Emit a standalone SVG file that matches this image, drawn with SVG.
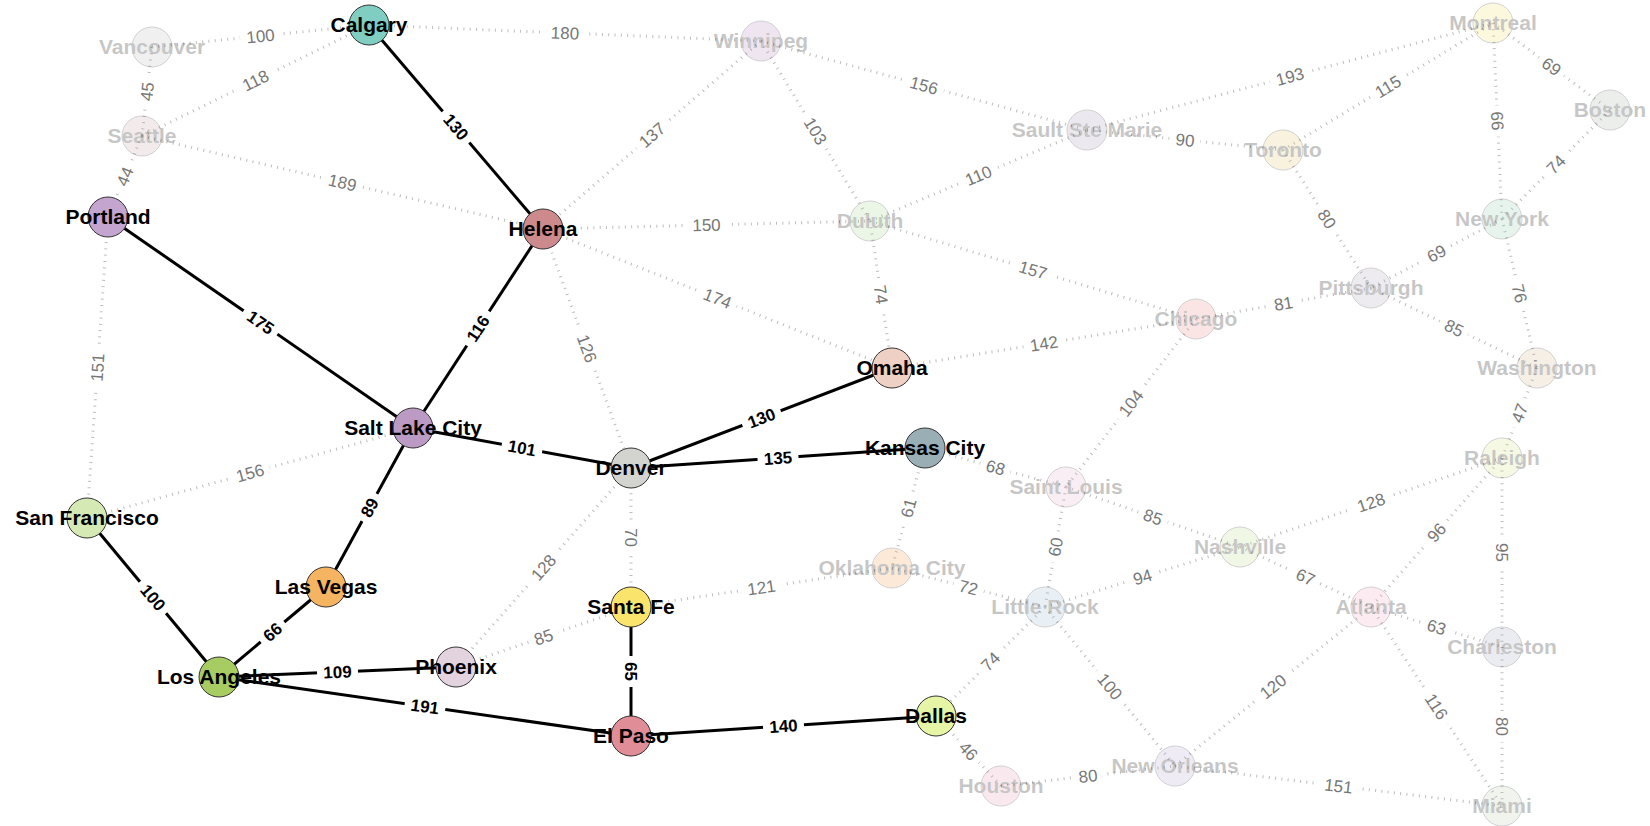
<svg xmlns="http://www.w3.org/2000/svg" width="1650" height="826" viewBox="0 0 1650 826">
  <style>
    .link { fill: none; stroke: #000; stroke-width: 3; }
    .link.faded { stroke: #bdbdbd; stroke-dasharray: 1 5.3; }
    .elabel text { font-family: "Liberation Sans", Arial, sans-serif; font-size: 17px; font-weight: bold; text-anchor: middle; fill: #000; }
    .elabel.faded text { font-weight: normal; fill: #777; }
    .node circle { stroke: #333; stroke-width: 1; }
    .node text { font-family: "Liberation Sans", Arial, sans-serif; font-size: 21px; font-weight: bold; text-anchor: middle; fill: #000; }
    .node.faded { opacity: 0.22; }
  </style>
  <defs>
    <!-- white backing that opens a gap in the line behind each distance -->
    <rect id="bg3" x="-20.5" y="-7" width="41" height="14" fill="#fff"/>
    <rect id="bg2" x="-15.5" y="-7" width="31" height="14" fill="#fff"/>
  </defs>

  <rect width="1650" height="826" fill="#fff"/>

  <g id="connectors">
    <g id="links">
      <!-- dotted routes -->
      <line class="link faded" x1="152" y1="47" x2="369" y2="25"/>
      <line class="link faded" x1="152" y1="47" x2="142" y2="136"/>
      <line class="link faded" x1="142" y1="136" x2="369" y2="25"/>
      <line class="link faded" x1="142" y1="136" x2="108" y2="217"/>
      <line class="link faded" x1="142" y1="136" x2="543" y2="229"/>
      <line class="link faded" x1="369" y1="25" x2="761" y2="41"/>
      <line class="link faded" x1="761" y1="41" x2="543" y2="229"/>
      <line class="link faded" x1="761" y1="41" x2="870" y2="221"/>
      <line class="link faded" x1="761" y1="41" x2="1087" y2="130"/>
      <line class="link faded" x1="543" y1="229" x2="870" y2="221"/>
      <line class="link faded" x1="543" y1="229" x2="892" y2="368"/>
      <line class="link faded" x1="543" y1="229" x2="631" y2="468"/>
      <line class="link faded" x1="870" y1="221" x2="1087" y2="130"/>
      <line class="link faded" x1="870" y1="221" x2="892" y2="368"/>
      <line class="link faded" x1="870" y1="221" x2="1196" y2="319"/>
      <line class="link faded" x1="1087" y1="130" x2="1493" y2="23"/>
      <line class="link faded" x1="1087" y1="130" x2="1283" y2="150"/>
      <line class="link faded" x1="1283" y1="150" x2="1493" y2="23"/>
      <line class="link faded" x1="1283" y1="150" x2="1371" y2="288"/>
      <line class="link faded" x1="1493" y1="23" x2="1610" y2="110"/>
      <line class="link faded" x1="1493" y1="23" x2="1502" y2="219"/>
      <line class="link faded" x1="1610" y1="110" x2="1502" y2="219"/>
      <line class="link faded" x1="1502" y1="219" x2="1371" y2="288"/>
      <line class="link faded" x1="1502" y1="219" x2="1537" y2="368"/>
      <line class="link faded" x1="1371" y1="288" x2="1196" y2="319"/>
      <line class="link faded" x1="1371" y1="288" x2="1537" y2="368"/>
      <line class="link faded" x1="892" y1="368" x2="1196" y2="319"/>
      <line class="link faded" x1="1196" y1="319" x2="1066" y2="487"/>
      <line class="link faded" x1="1537" y1="368" x2="1502" y2="458"/>
      <line class="link faded" x1="108" y1="217" x2="87" y2="518"/>
      <line class="link faded" x1="87" y1="518" x2="413" y2="428"/>
      <line class="link faded" x1="631" y1="468" x2="456" y2="667"/>
      <line class="link faded" x1="631" y1="468" x2="631" y2="607"/>
      <line class="link faded" x1="925" y1="448" x2="1066" y2="487"/>
      <line class="link faded" x1="925" y1="448" x2="892" y2="568"/>
      <line class="link faded" x1="456" y1="667" x2="631" y2="607"/>
      <line class="link faded" x1="631" y1="607" x2="892" y2="568"/>
      <line class="link faded" x1="892" y1="568" x2="1045" y2="607"/>
      <line class="link faded" x1="1066" y1="487" x2="1045" y2="607"/>
      <line class="link faded" x1="1066" y1="487" x2="1240" y2="547"/>
      <line class="link faded" x1="1045" y1="607" x2="1240" y2="547"/>
      <line class="link faded" x1="1502" y1="458" x2="1240" y2="547"/>
      <line class="link faded" x1="1240" y1="547" x2="1371" y2="607"/>
      <line class="link faded" x1="1502" y1="458" x2="1371" y2="607"/>
      <line class="link faded" x1="1502" y1="458" x2="1502" y2="647"/>
      <line class="link faded" x1="1371" y1="607" x2="1502" y2="647"/>
      <line class="link faded" x1="1045" y1="607" x2="936" y2="716"/>
      <line class="link faded" x1="1045" y1="607" x2="1175" y2="766"/>
      <line class="link faded" x1="936" y1="716" x2="1001" y2="786"/>
      <line class="link faded" x1="1001" y1="786" x2="1175" y2="766"/>
      <line class="link faded" x1="1175" y1="766" x2="1371" y2="607"/>
      <line class="link faded" x1="1371" y1="607" x2="1502" y2="806"/>
      <line class="link faded" x1="1502" y1="647" x2="1502" y2="806"/>
      <line class="link faded" x1="1175" y1="766" x2="1502" y2="806"/>
      <!-- solid routes -->
      <line class="link" x1="369" y1="25" x2="543" y2="229"/>
      <line class="link" x1="108" y1="217" x2="413" y2="428"/>
      <line class="link" x1="543" y1="229" x2="413" y2="428"/>
      <line class="link" x1="413" y1="428" x2="631" y2="468"/>
      <line class="link" x1="413" y1="428" x2="326" y2="587"/>
      <line class="link" x1="87" y1="518" x2="219" y2="677"/>
      <line class="link" x1="326" y1="587" x2="219" y2="677"/>
      <line class="link" x1="219" y1="677" x2="456" y2="667"/>
      <line class="link" x1="219" y1="677" x2="631" y2="736"/>
      <line class="link" x1="631" y1="468" x2="892" y2="368"/>
      <line class="link" x1="631" y1="468" x2="925" y2="448"/>
      <line class="link" x1="631" y1="607" x2="631" y2="736"/>
      <line class="link" x1="631" y1="736" x2="936" y2="716"/>
    </g>

    <g id="link-labels">
      <g class="elabel faded" transform="translate(260.5 36) rotate(-5.79)"><use href="#bg3"/><text y="6">100</text></g>
      <g class="elabel faded" transform="translate(147 91.5) rotate(-83.6)"><use href="#bg2"/><text y="6">45</text></g>
      <g class="elabel faded" transform="translate(255.5 80.5) rotate(-26.06)"><use href="#bg3"/><text y="6">118</text></g>
      <g class="elabel faded" transform="translate(125 176.5) rotate(-67.2)"><use href="#bg2"/><text y="6">44</text></g>
      <g class="elabel faded" transform="translate(342.5 182.5) rotate(13.06)"><use href="#bg3"/><text y="6">189</text></g>
      <g class="elabel faded" transform="translate(565 33) rotate(2.34)"><use href="#bg3"/><text y="6">180</text></g>
      <g class="elabel faded" transform="translate(652 135) rotate(-40.77)"><use href="#bg3"/><text y="6">137</text></g>
      <g class="elabel faded" transform="translate(815.5 131) rotate(58.8)"><use href="#bg3"/><text y="6">103</text></g>
      <g class="elabel faded" transform="translate(924 85.5) rotate(15.27)"><use href="#bg3"/><text y="6">156</text></g>
      <g class="elabel faded" transform="translate(706.5 225) rotate(-1.4)"><use href="#bg3"/><text y="6">150</text></g>
      <g class="elabel faded" transform="translate(717.5 298.5) rotate(21.72)"><use href="#bg3"/><text y="6">174</text></g>
      <g class="elabel faded" transform="translate(587 348.5) rotate(69.79)"><use href="#bg3"/><text y="6">126</text></g>
      <g class="elabel faded" transform="translate(978.5 175.5) rotate(-22.75)"><use href="#bg3"/><text y="6">110</text></g>
      <g class="elabel faded" transform="translate(881 294.5) rotate(81.49)"><use href="#bg2"/><text y="6">74</text></g>
      <g class="elabel faded" transform="translate(1033 270) rotate(16.73)"><use href="#bg3"/><text y="6">157</text></g>
      <g class="elabel faded" transform="translate(1290 76.5) rotate(-14.76)"><use href="#bg3"/><text y="6">193</text></g>
      <g class="elabel faded" transform="translate(1185 140) rotate(5.83)"><use href="#bg2"/><text y="6">90</text></g>
      <g class="elabel faded" transform="translate(1388 86.5) rotate(-31.16)"><use href="#bg3"/><text y="6">115</text></g>
      <g class="elabel faded" transform="translate(1327 219) rotate(57.47)"><use href="#bg2"/><text y="6">80</text></g>
      <g class="elabel faded" transform="translate(1551.5 66.5) rotate(36.63)"><use href="#bg2"/><text y="6">69</text></g>
      <g class="elabel faded" transform="translate(1497.5 121) rotate(87.37)"><use href="#bg2"/><text y="6">66</text></g>
      <g class="elabel faded" transform="translate(1556 164.5) rotate(-45.26)"><use href="#bg2"/><text y="6">74</text></g>
      <g class="elabel faded" transform="translate(1436.5 253.5) rotate(-27.78)"><use href="#bg2"/><text y="6">69</text></g>
      <g class="elabel faded" transform="translate(1519.5 293.5) rotate(76.78)"><use href="#bg2"/><text y="6">76</text></g>
      <g class="elabel faded" transform="translate(1283.5 303.5) rotate(-10.05)"><use href="#bg2"/><text y="6">81</text></g>
      <g class="elabel faded" transform="translate(1454 328) rotate(25.73)"><use href="#bg2"/><text y="6">85</text></g>
      <g class="elabel faded" transform="translate(1044 343.5) rotate(-9.16)"><use href="#bg3"/><text y="6">142</text></g>
      <g class="elabel faded" transform="translate(1131 403) rotate(-52.26)"><use href="#bg3"/><text y="6">104</text></g>
      <g class="elabel faded" transform="translate(1519.5 413) rotate(-68.75)"><use href="#bg2"/><text y="6">47</text></g>
      <g class="elabel faded" transform="translate(97.5 367.5) rotate(-86.01)"><use href="#bg3"/><text y="6">151</text></g>
      <g class="elabel faded" transform="translate(250 473) rotate(-15.43)"><use href="#bg3"/><text y="6">156</text></g>
      <g class="elabel faded" transform="translate(543.5 567.5) rotate(-48.67)"><use href="#bg3"/><text y="6">128</text></g>
      <g class="elabel faded" transform="translate(631 537.5) rotate(90)"><use href="#bg2"/><text y="6">70</text></g>
      <g class="elabel faded" transform="translate(995.5 467.5) rotate(15.46)"><use href="#bg2"/><text y="6">68</text></g>
      <g class="elabel faded" transform="translate(908.5 508) rotate(-74.62)"><use href="#bg2"/><text y="6">61</text></g>
      <g class="elabel faded" transform="translate(543.5 637) rotate(-18.92)"><use href="#bg2"/><text y="6">85</text></g>
      <g class="elabel faded" transform="translate(761.5 587.5) rotate(-8.5)"><use href="#bg3"/><text y="6">121</text></g>
      <g class="elabel faded" transform="translate(968.5 587.5) rotate(14.3)"><use href="#bg2"/><text y="6">72</text></g>
      <g class="elabel faded" transform="translate(1055.5 547) rotate(-80.07)"><use href="#bg2"/><text y="6">60</text></g>
      <g class="elabel faded" transform="translate(1153 517) rotate(19.03)"><use href="#bg2"/><text y="6">85</text></g>
      <g class="elabel faded" transform="translate(1142.5 577) rotate(-17.1)"><use href="#bg2"/><text y="6">94</text></g>
      <g class="elabel faded" transform="translate(1371 502.5) rotate(-18.76)"><use href="#bg3"/><text y="6">128</text></g>
      <g class="elabel faded" transform="translate(1305.5 577) rotate(24.61)"><use href="#bg2"/><text y="6">67</text></g>
      <g class="elabel faded" transform="translate(1436.5 532.5) rotate(-48.68)"><use href="#bg2"/><text y="6">96</text></g>
      <g class="elabel faded" transform="translate(1502 552.5) rotate(90)"><use href="#bg2"/><text y="6">95</text></g>
      <g class="elabel faded" transform="translate(1436.5 627) rotate(16.98)"><use href="#bg2"/><text y="6">63</text></g>
      <g class="elabel faded" transform="translate(990.5 661.5) rotate(-45)"><use href="#bg2"/><text y="6">74</text></g>
      <g class="elabel faded" transform="translate(1110 686.5) rotate(50.73)"><use href="#bg3"/><text y="6">100</text></g>
      <g class="elabel faded" transform="translate(968.5 751) rotate(47.12)"><use href="#bg2"/><text y="6">46</text></g>
      <g class="elabel faded" transform="translate(1088 776) rotate(-6.56)"><use href="#bg2"/><text y="6">80</text></g>
      <g class="elabel faded" transform="translate(1273 686.5) rotate(-39.05)"><use href="#bg3"/><text y="6">120</text></g>
      <g class="elabel faded" transform="translate(1436.5 706.5) rotate(56.64)"><use href="#bg3"/><text y="6">116</text></g>
      <g class="elabel faded" transform="translate(1502 726.5) rotate(90)"><use href="#bg2"/><text y="6">80</text></g>
      <g class="elabel faded" transform="translate(1338.5 786) rotate(6.97)"><use href="#bg3"/><text y="6">151</text></g>

      <g class="elabel" transform="translate(456 127) rotate(49.54)"><use href="#bg3"/><text y="6">130</text></g>
      <g class="elabel" transform="translate(260.5 322.5) rotate(34.68)"><use href="#bg3"/><text y="6">175</text></g>
      <g class="elabel" transform="translate(478 328.5) rotate(-56.84)"><use href="#bg3"/><text y="6">116</text></g>
      <g class="elabel" transform="translate(522 448) rotate(10.4)"><use href="#bg3"/><text y="6">101</text></g>
      <g class="elabel" transform="translate(369.5 507.5) rotate(-61.31)"><use href="#bg2"/><text y="6">89</text></g>
      <g class="elabel" transform="translate(153 597.5) rotate(50.3)"><use href="#bg3"/><text y="6">100</text></g>
      <g class="elabel" transform="translate(272.5 632) rotate(-40.07)"><use href="#bg2"/><text y="6">66</text></g>
      <g class="elabel" transform="translate(337.5 672) rotate(-2.42)"><use href="#bg3"/><text y="6">109</text></g>
      <g class="elabel" transform="translate(425 706.5) rotate(8.15)"><use href="#bg3"/><text y="6">191</text></g>
      <g class="elabel" transform="translate(761.5 418) rotate(-20.96)"><use href="#bg3"/><text y="6">130</text></g>
      <g class="elabel" transform="translate(778 458) rotate(-3.89)"><use href="#bg3"/><text y="6">135</text></g>
      <g class="elabel" transform="translate(631 671.5) rotate(90)"><use href="#bg2"/><text y="6">65</text></g>
      <g class="elabel" transform="translate(783.5 726) rotate(-3.75)"><use href="#bg3"/><text y="6">140</text></g>
    </g>
  </g>

  <!-- cities off the route -->
  <g id="n-vancouver" class="node faded"><circle cx="152" cy="47" r="20" fill="#bdbdbd"/><text x="152" y="54">Vancouver</text></g>
  <g id="n-seattle" class="node faded"><circle cx="142" cy="136" r="20" fill="#c9a4a8"/><text x="142" y="143">Seattle</text></g>
  <g id="n-winnipeg" class="node faded"><circle cx="761" cy="41" r="20" fill="#b98cc4"/><text x="761" y="48">Winnipeg</text></g>
  <g id="n-duluth" class="node faded"><circle cx="870" cy="221" r="20" fill="#a6d98f"/><text x="870" y="228">Duluth</text></g>
  <g id="n-sault-ste-marie" class="node faded"><circle cx="1087" cy="130" r="20" fill="#a99cc0"/><text x="1087" y="137">Sault Ste Marie</text></g>
  <g id="n-montreal" class="node faded"><circle cx="1493" cy="23" r="20" fill="#f5e36a"/><text x="1493" y="30">Montreal</text></g>
  <g id="n-toronto" class="node faded"><circle cx="1283" cy="150" r="20" fill="#e6c86e"/><text x="1283" y="157">Toronto</text></g>
  <g id="n-boston" class="node faded"><circle cx="1610" cy="110" r="20" fill="#a9b3a5"/><text x="1610" y="117">Boston</text></g>
  <g id="n-new-york" class="node faded"><circle cx="1502" cy="219" r="20" fill="#8fd1b0"/><text x="1502" y="226">New York</text></g>
  <g id="n-pittsburgh" class="node faded"><circle cx="1371" cy="288" r="20" fill="#b3a6bf"/><text x="1371" y="295">Pittsburgh</text></g>
  <g id="n-chicago" class="node faded"><circle cx="1196" cy="319" r="20" fill="#f08a8a"/><text x="1196" y="326">Chicago</text></g>
  <g id="n-washington" class="node faded"><circle cx="1537" cy="368" r="20" fill="#d9b98c"/><text x="1537" y="375">Washington</text></g>
  <g id="n-raleigh" class="node faded"><circle cx="1502" cy="458" r="20" fill="#d6e68a"/><text x="1502" y="465">Raleigh</text></g>
  <g id="n-saint-louis" class="node faded"><circle cx="1066" cy="487" r="20" fill="#e6b3cc"/><text x="1066" y="494">Saint Louis</text></g>
  <g id="n-nashville" class="node faded"><circle cx="1240" cy="547" r="20" fill="#c2dc8c"/><text x="1240" y="554">Nashville</text></g>
  <g id="n-oklahoma-city" class="node faded"><circle cx="892" cy="568" r="20" fill="#f4a04c"/><text x="892" y="575">Oklahoma City</text></g>
  <g id="n-little-rock" class="node faded"><circle cx="1045" cy="607" r="20" fill="#9cbcd6"/><text x="1045" y="614">Little Rock</text></g>
  <g id="n-atlanta" class="node faded"><circle cx="1371" cy="607" r="20" fill="#f2a6bf"/><text x="1371" y="614">Atlanta</text></g>
  <g id="n-charleston" class="node faded"><circle cx="1502" cy="647" r="20" fill="#a9acc2"/><text x="1502" y="654">Charleston</text></g>
  <g id="n-houston" class="node faded"><circle cx="1001" cy="786" r="20" fill="#e8a0b4"/><text x="1001" y="793">Houston</text></g>
  <g id="n-new-orleans" class="node faded"><circle cx="1175" cy="766" r="20" fill="#b8a8d6"/><text x="1175" y="773">New Orleans</text></g>
  <g id="n-miami" class="node faded"><circle cx="1502" cy="806" r="20" fill="#c2ccb0"/><text x="1502" y="813">Miami</text></g>

  <!-- cities on the route -->
  <g id="n-calgary" class="node"><circle cx="369" cy="25" r="20" fill="#80cdc1"/><text x="369" y="32">Calgary</text></g>
  <g id="n-portland" class="node"><circle cx="108" cy="217" r="20" fill="#c3a5cf"/><text x="108" y="224">Portland</text></g>
  <g id="n-helena" class="node"><circle cx="543" cy="229" r="20" fill="#cd8a8c"/><text x="543" y="236">Helena</text></g>
  <g id="n-salt-lake-city" class="node"><circle cx="413" cy="428" r="20" fill="#bb9bc4"/><text x="413" y="435">Salt Lake City</text></g>
  <g id="n-san-francisco" class="node"><circle cx="87" cy="518" r="20" fill="#d4e9b4"/><text x="87" y="525">San Francisco</text></g>
  <g id="n-las-vegas" class="node"><circle cx="326" cy="587" r="20" fill="#f5b462"/><text x="326" y="594">Las Vegas</text></g>
  <g id="n-los-angeles" class="node"><circle cx="219" cy="677" r="20" fill="#a7cd62"/><text x="219" y="684">Los Angeles</text></g>
  <g id="n-phoenix" class="node"><circle cx="456" cy="667" r="20" fill="#e3d3df"/><text x="456" y="674">Phoenix</text></g>
  <g id="n-denver" class="node"><circle cx="631" cy="468" r="20" fill="#d3d3d0"/><text x="631" y="475">Denver</text></g>
  <g id="n-omaha" class="node"><circle cx="892" cy="368" r="20" fill="#eed0c4"/><text x="892" y="375">Omaha</text></g>
  <g id="n-kansas-city" class="node"><circle cx="925" cy="448" r="20" fill="#9aaeb6"/><text x="925" y="455">Kansas City</text></g>
  <g id="n-santa-fe" class="node"><circle cx="631" cy="607" r="20" fill="#fbe46c"/><text x="631" y="614">Santa Fe</text></g>
  <g id="n-el-paso" class="node"><circle cx="631" cy="736" r="20" fill="#e08d97"/><text x="631" y="743">El Paso</text></g>
  <g id="n-dallas" class="node"><circle cx="936" cy="716" r="20" fill="#e6f4a6"/><text x="936" y="723">Dallas</text></g>
</svg>
